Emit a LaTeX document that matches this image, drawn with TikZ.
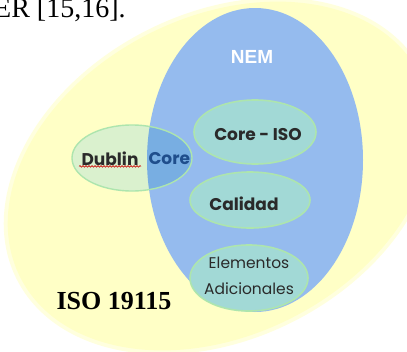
\documentclass[tikz,border=0pt]{standalone}
\usepackage{fontspec}
\setmainfont{Liberation Serif}
\newfontfamily\labfont{Poppins}
\newfontfamily\nemfont{Liberation Sans}
\usetikzlibrary{shapes.geometric,decorations.pathmorphing}
\definecolor{yel}{HTML}{FFFFC6}
\definecolor{yeledge}{HTML}{FFFFDE}
\definecolor{bluec}{HTML}{95BBEE}
\definecolor{overlapc}{HTML}{78AEE2}
\definecolor{greenfill}{HTML}{A2D9D6}
\definecolor{greenedge}{HTML}{ADE5AE}
\definecolor{dcfill}{HTML}{DAF1CE}
\definecolor{txt}{HTML}{2A2A2A}
\definecolor{dcblue}{HTML}{1F4E8C}
\tikzset{
  subset/.style={ellipse, draw=greenedge, line width=1.6pt, fill=greenfill, inner sep=0pt},
  lab/.style={font=\labfont\bfseries\fontsize{17}{20}\selectfont, text=txt, align=center},
  lablight/.style={font=\labfont\fontsize{15.5}{26}\selectfont, text=txt, align=center}
}
\begin{document}
\begin{tikzpicture}[x=1pt,y=-1pt]
\useasboundingbox (0,0) rectangle (407,351);
\begin{scope}
\clip (0,0) rectangle (407,351);
\fill[white] (0,0) rectangle (407,351);
\node[anchor=base west, inner sep=0pt, font=\fontsize{28}{28}\selectfont] (head) at (-6,17) {ER [15,16].};
\node[ellipse, fill=yeledge, inner sep=0pt, minimum width=456pt, minimum height=326pt, rotate=27] (isoe) at (220,176) {};
\node[ellipse, fill=yel, inner sep=0pt, minimum width=448pt, minimum height=318pt, rotate=27] (iso) at (220,176) {};
\node[ellipse, fill=bluec, inner sep=0pt, minimum width=216pt, minimum height=304pt] (nem) at (255,160) {};
\node[subset, minimum width=122pt, minimum height=64pt] (coreiso) at (255,132) {};
\node[subset, minimum width=120pt, minimum height=56pt] (calidad) at (250,200) {};
\node[subset, minimum width=118pt, minimum height=66pt] (elem) at (249,278) {};
\node[ellipse, fill=dcfill, inner sep=0pt, minimum width=120pt, minimum height=66pt] (dc) at (132,158) {};
\begin{scope}
\clip (255,160) ellipse [x radius=108, y radius=152];
\fill[overlapc] (132,158) ellipse [x radius=60, y radius=33];
\end{scope}
\draw[greenedge, line width=1.4pt] (132,158) ellipse [x radius=60, y radius=33];
\end{scope}
\node[font=\nemfont\bfseries\fontsize{19}{19}\selectfont, text=white] (nemt) at (252,57) {NEM};
\node[lab] (coreisot) at (258,135) {Core - ISO};
\node[lab] (calidadt) at (244,204) {Calidad};
\node[lablight] (elemt) at (249,276) {Elementos\\Adicionales};
\node[lab, anchor=east] (dublint) at (142,159) {Dublin};
\node[lab, anchor=west, text=dcblue] (coret) at (145,159) {Core};
\draw[red!80!black, line width=0.6pt, decorate, decoration={snake, amplitude=0.8pt, segment length=3pt}] ([xshift=1pt,yshift=3pt]dublint.south west) -- ([xshift=-1pt,yshift=3pt]dublint.south east);
\node[font=\bfseries\fontsize{26}{26}\selectfont, text=black] (isot) at (114,301) {ISO 19115};
\end{tikzpicture}
\end{document}
